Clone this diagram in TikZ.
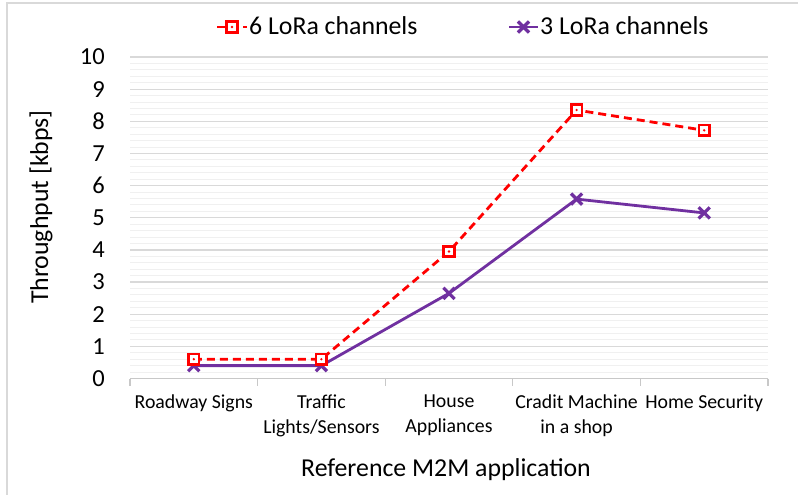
\documentclass[tikz,border=0pt]{standalone}
\usepackage{fontspec}
\setmainfont{Carlito}
\usetikzlibrary{shapes.misc}
\definecolor{sixcol}{RGB}{255,0,0}
\definecolor{threecol}{RGB}{112,48,160}
\definecolor{majgrid}{RGB}{217,217,217}
\definecolor{mingrid}{RGB}{240,240,240}
\definecolor{axiscol}{RGB}{200,200,200}
\tikzset{
  sixline/.style={draw=sixcol, line width=2.8pt, dash pattern=on 8pt off 5pt},
  threeline/.style={draw=threecol, line width=2.8pt},
  sqmark/.style={rectangle, draw=sixcol, fill=white, line width=2.6pt, minimum size=10.5pt, inner sep=0pt},
  xmark/.style={cross out, draw=threecol, line width=3.2pt, minimum size=8pt, inner sep=0pt},
  ticklab/.style={font=\fontsize{24.5}{26}\selectfont, anchor=east, inner sep=0pt},
  catlab/.style={font=\fontsize{19.8}{25}\selectfont, align=center, anchor=north, inner sep=0pt},
  bigtitle/.style={font=\fontsize{25.8}{28}\selectfont, inner sep=0pt},
}
\begin{document}
\begin{tikzpicture}[x=1pt, y=-1pt]
  \useasboundingbox (0,0) rectangle (798,495);
  % chart frame
  \draw[draw=majgrid, line width=1.5pt] (7,495) -- (7,3) -- (798,3);
  % minor and major horizontal gridlines
  \foreach \k in {1,...,49}{
    \draw[mingrid, line width=1pt] (130,{378.5-6.43*\k}) -- (768,{378.5-6.43*\k});
  }
  \foreach \k in {1,...,10}{
    \draw[majgrid, line width=1.2pt] (130,{378.5-32.15*\k}) -- (768,{378.5-32.15*\k});
  }
  % category axis with tick marks
  \draw[axiscol, line width=1.2pt] (130,378.5) -- (768,378.5);
  \foreach \x in {130,257.6,385.2,512.8,640.4,768}{
    \draw[axiscol, line width=1.2pt] (\x,378.5) -- (\x,386);
  }
  % value axis labels
  \foreach \k in {0,...,10}{
    \node[ticklab] (yl\k) at (105,{378.5-32.15*\k}) {\k};
  }
  % category labels
  \node[catlab] (c1) at (193.8,395) {Roadway Signs};
  \node[catlab] (c2) at (321.4,395) {Traffic\\Lights/Sensors};
  \node[catlab] (c3) at (449,395) {House\\Appliances};
  \node[catlab] (c4) at (576.6,395) {Cradit Machine\\in a shop};
  \node[catlab] (c5) at (704.2,395) {Home Security};
  % axis titles
  \node[bigtitle] (xt) at (446,470) {Reference M2M application};
  \node[bigtitle, rotate=90] (yt) at (41,207) {Throughput [kbps]};
  % data points
  \foreach \n/\x/\v in {1/193.8/0.6, 2/321.4/0.6, 3/449/3.95, 4/576.6/8.35, 5/704.2/7.72}{
    \coordinate (r\n) at (\x,{378.5-32.15*\v});
  }
  \foreach \n/\x/\v in {1/193.8/0.4, 2/321.4/0.4, 3/449/2.65, 4/576.6/5.58, 5/704.2/5.15}{
    \coordinate (p\n) at (\x,{378.5-32.15*\v});
  }
  % series lines
  \draw[threeline] (p1) -- (p2) -- (p3) -- (p4) -- (p5);
  \draw[sixline] (r1) -- (r2) -- (r3) -- (r4) -- (r5);
  % markers
  \foreach \n in {1,...,5}{
    \node[xmark] (pm\n) at (p\n) {};
  }
  \foreach \n in {1,...,5}{
    \node[sqmark] (rm\n) at (r\n) {};
    \fill[sixcol] (r\n) circle (1.3pt);
  }
  % legend
  \coordinate (la) at (217,27);
  \coordinate (lb) at (247,27);
  \draw[sixline] (la) -- (lb);
  \node[sqmark] (lm1) at (232,27) {};
  \fill[sixcol] (lm1.center) circle (1.3pt);
  \node[bigtitle, anchor=west] (lt1) at (249,26) {6 LoRa channels};
  \coordinate (lc) at (509,27);
  \coordinate (ld) at (538,27);
  \draw[threeline] (lc) -- (ld);
  \node[xmark] (lm2) at (523.5,27) {};
  \node[bigtitle, anchor=west] (lt2) at (540,26) {3 LoRa channels};
\end{tikzpicture}
\end{document}
